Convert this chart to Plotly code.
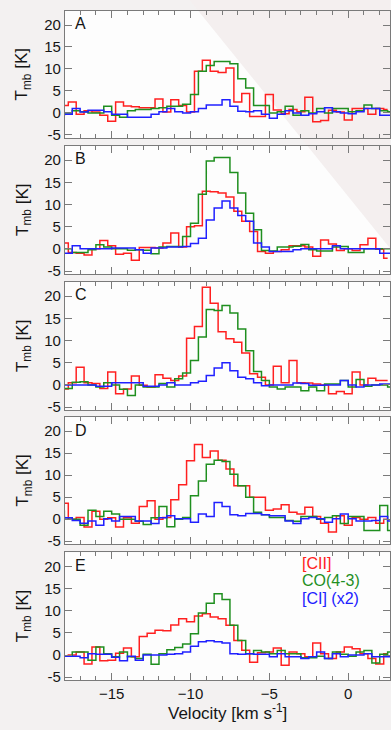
import plotly.graph_objects as go

# ---------------- data ----------------
panel_labels = ["A", "B", "C", "D", "E"]

# channel centres (km/s)
vel_cii = [-18.0, -17.5, -17.0, -16.5, -16.0, -15.5, -15.0, -14.5, -14.0, -13.5,
           -13.0, -12.5, -12.0, -11.5, -11.0, -10.5, -10.0, -9.5, -9.0, -8.5,
           -8.0, -7.5, -7.0, -6.5, -6.0, -5.5, -5.0, -4.5, -4.0, -3.5,
           -3.0, -2.5, -2.0, -1.5, -1.0, -0.5, 0.0, 0.5, 1.0, 1.5, 2.0, 2.5]
vel_co = [-18.25, -17.75, -17.25, -16.75, -16.25, -15.75, -15.25, -14.75, -14.25, -13.75,
          -13.25, -12.75, -12.25, -11.75, -11.25, -10.75, -10.25, -9.75, -9.25, -8.75,
          -8.25, -7.75, -7.25, -6.75, -6.25, -5.75, -5.25, -4.75, -4.25, -3.75,
          -3.25, -2.75, -2.25, -1.75, -1.25, -0.75, -0.25, 0.25, 0.75, 1.25,
          1.75, 2.25, 2.75]

cii_A = [1.7, 2.5, -0.3, 0.5, 0.2, -0.5, -1.9, 2.5, 1.6, 1.4, 1.2, 1.2, 3.2, 0.2, 3.0, 1.7, 0.2, 9.5,
         12.0, 9.5, 9.2, 10.2, 2.5, 4.4, -0.8, -0.8, 4.2, 0.7, -0.2, 0.8, 0.3, 3.6, -2.0, -1.7,
         0.6, 0.2, -1.6, 1.0, 1.0, -0.3, 1.0, 0.8]
co_A = [0.0, 0.0, 0.5, 0.3, 0.0, 0.0, 1.5, -0.5, -1.0, 0.5, 0.8, 0.8, 1.0, 1.2, 1.5, 1.5, 2.0, 4.2,
        9.5, 10.8, 11.7, 11.7, 11.2, 7.8, 5.7, 1.7, 1.7, 0.0, 0.3, 1.5, -0.5, 0.5, 0.0, 1.0,
        0.0, 1.0, 1.0, 0.3, 0.5, 1.8, 1.0, 0.5, 0.3]
ci_A = [-0.5, -0.3, 1.0, 0.2, 0.6, 0.6, 0.3, -0.3, -0.3, -1.0, -1.0, -1.0, -0.3, 0.3, 1.0, 0.3, 0.0, 0.3,
        1.0, 1.8, 1.8, 3.0, 1.5, 0.4, 0.3, 0.5, -0.3, -1.2, -0.3, 0.5, 0.0, -0.5, -0.2, 0.3,
        1.2, 0.3, 0.0, -0.2, 0.3, 1.0, 1.0, -0.5, -0.5]

cii_B = [1.3, -0.8, -1.0, -1.4, 0.0, 1.9, 0.7, -1.2, -1.0, -2.6, 0.3, 0.3, 0.2, 1.3, 3.6, 0.4, 5.0, 5.2,
         13.0, 12.9, 12.6, 11.7, 8.5, 6.2, 3.9, -0.6, -1.0, -0.6, -0.2, 0.7, 0.7, 0.4, -1.7, 2.0,
         1.1, -0.4, 0.0, -0.4, 0.9, 2.4, -0.1, -2.1]
co_B = [0.0, 0.0, -0.8, -0.8, -0.2, 0.9, 0.4, 0.0, 0.0, -0.3, -0.2, -0.3, -1.1, 0.4, 0.5, 0.5, 2.8, 5.8,
        12.3, 19.8, 20.6, 20.6, 17.2, 12.6, 8.0, 4.3, -0.4, -0.5, 0.4, 0.4, 0.6, 1.0, -0.2, -0.5,
        -0.5, 0.4, 0.5, -0.8, -0.8, 0.0, 0.0, 0.0, 0.0]
ci_B = [-1.0, -1.0, 0.7, 0.0, 0.0, 0.0, 0.0, 0.2, 0.2, 0.2, -0.2, -1.0, 0.2, 0.2, 0.4, 0.4, 0.5, 1.2,
        2.4, 6.5, 9.2, 10.8, 9.2, 7.5, 6.2, 1.3, 0.4, -0.6, -0.6, -0.6, -0.2, 0.0, 0.0, 0.0,
        0.0, 0.7, 0.0, 0.0, 0.0, 0.0, 0.0, -1.0, -1.0]

cii_C = [-0.9, 0.5, 4.0, 0.5, 0.3, -0.8, 2.9, -2.0, -0.9, 2.0, -0.1, -0.5, 2.3, 1.5, 1.0, 2.0, 10.5, 13.2,
         22.0, 18.4, 12.0, 10.4, 9.6, 7.2, 2.5, 1.7, 0.0, 4.2, 0.5, 5.5, 0.5, 0.4, 0.2, 0.0,
         -2.0, -1.5, -2.0, 2.9, 0.0, 1.5, 1.0, 1.0]
co_C = [-0.8, -0.8, 0.6, 0.7, 0.0, -0.5, 0.5, 0.0, -1.0, -2.4, 0.0, -0.5, -0.5, 0.3, -0.5, 1.4, 2.7, 5.5,
        10.8, 17.0, 16.8, 17.9, 16.2, 12.6, 7.7, 3.0, 1.0, -0.5, -0.9, -0.5, -0.5, -1.3, -0.5, -1.3,
        0.2, 0.2, 1.0, -0.5, 1.2, -0.3, 0.0, 0.0, -0.5]
ci_C = [0.0, 0.0, 0.0, 0.0, 0.0, -0.3, -0.3, 0.5, 0.5, 0.5, 0.5, -0.3, -0.3, 0.0, 0.5, 0.0, 0.0, 0.5,
        0.8, 2.1, 3.8, 5.0, 3.2, 1.7, 1.4, 0.5, -0.2, 0.0, 0.0, 0.0, 0.4, 0.3, -0.1, -0.1,
        0.0, 0.0, 1.0, 0.0, -0.5, 0.0, 0.0, 0.2, 0.2]

cii_D = [3.6, 0.0, 0.4, -1.8, 1.8, 0.0, 0.3, -1.8, 0.3, -0.9, 2.9, 4.2, 0.0, 0.4, 4.4, 7.8, 13.3, 17.0,
         14.0, 15.5, 13.4, 11.4, 7.6, 7.6, 5.0, 5.0, 2.0, 2.3, 3.3, 1.6, 1.2, 2.7, 0.6, -0.9,
         -2.9, 0.8, -1.4, 0.4, 0.0, 0.4, -0.9, 0.0]
co_D = [1.8, 0.0, 0.0, -1.4, 2.0, 0.6, 1.8, 1.2, 0.0, 0.0, -0.5, -1.2, 0.3, 2.9, -1.7, 0.0, 0.4, 5.3,
        8.7, 12.5, 13.4, 13.1, 10.2, 7.6, 5.0, 1.6, 1.0, 0.4, 0.4, -0.3, -0.5, 0.6, 0.6, 0.0,
        0.4, 0.8, -1.0, 0.6, 0.6, -2.6, -2.6, 3.1, -2.6]
ci_D = [0.5, 0.3, -0.3, -0.9, -0.4, -1.4, 0.1, -0.4, 0.6, 0.6, -0.4, -0.4, -1.0, 0.3, 0.8, 0.1, 0.1, -0.7,
        1.2, 0.6, 3.8, 2.9, 1.0, 0.8, 1.3, 1.3, 1.0, 0.8, 0.8, -0.4, -1.0, 0.1, 0.4, 0.1,
        -0.7, 0.1, 1.2, 0.1, -0.4, -0.4, -0.3, 0.6, -0.4]

cii_E = [-0.3, 0.0, 0.7, -2.0, 1.8, -1.3, -1.2, 0.4, 1.6, -0.4, 4.2, 4.9, 5.6, 5.5, 6.8, 8.2, 7.5, 8.8,
         9.3, 8.6, 8.2, 6.7, 3.3, 1.1, -1.6, 0.5, 0.7, 1.6, -2.3, 0.7, 0.3, -0.4, 2.7, 0.3,
         -0.8, 0.7, 1.8, 1.4, 0.3, -0.8, -2.0, 0.3]
co_E = [-0.3, -0.3, 0.7, 0.7, -1.2, 1.8, 0.3, -0.4, 0.7, -0.4, -0.8, 0.2, -2.1, 0.3, 1.2, 1.7, 2.5, 4.8,
        9.5, 11.7, 13.8, 12.5, 6.7, 3.3, 0.3, 1.0, 0.7, 0.3, 1.0, 0.3, 0.3, -0.6, -0.6, -0.3,
        -0.8, 0.7, 0.2, -0.3, 0.7, 1.0, -1.8, 0.2, 0.7]
ci_E = [-0.3, -0.3, -0.3, -0.6, 0.3, 0.2, 0.2, -0.5, -1.3, -0.3, -1.2, 0.0, 0.0, 0.0, 0.2, 0.3, 0.7, 2.0,
        3.0, 3.2, 3.0, 2.7, 0.3, 0.2, 0.3, 0.2, 0.2, -0.4, 0.3, -0.4, -0.4, -0.8, -0.4, 0.7,
        -0.8, 0.3, -0.4, 0.0, 0.0, 0.3, -0.4, -0.4, -0.4]

cii_all = [cii_A, cii_B, cii_C, cii_D, cii_E]
co_all = [co_A, co_B, co_C, co_D, co_E]
ci_all = [ci_A, ci_B, ci_C, ci_D, ci_E]

y_ticks = [-5, 0, 5, 10, 15, 20]
legend_names = ["[CII]", "CO(4-3)", "[CI] (x2)"]

# ---------------- style ----------------
W, H = 391, 730
RED, GREEN, BLUE = "#ff2020", "#1f8f1f", "#2020ff"
AXC = "#7a7a7a"
FONT = "Liberation Sans, Arial, sans-serif"
TXT = "#151515"
panel_px = [(11, 139), (147, 276), (284, 413), (420, 548), (556, 685)]  # top, bottom in px
x_left = 65

fig = go.Figure()
layout = dict(
    width=W, height=H, margin=dict(l=0, r=0, t=0, b=0),
    paper_bgcolor="#f3f1f1", plot_bgcolor="#fdfdfd", showlegend=False,
    font=dict(family=FONT, color=TXT),
)
annotations = []

for i in range(5):
    sfx = "" if i == 0 else str(i + 1)
    top, bot = panel_px[i]
    for vals, vel, col in [(cii_all[i], vel_cii, RED), (co_all[i], vel_co, GREEN), (ci_all[i], vel_co, BLUE)]:
        fig.add_trace(go.Scatter(x=vel, y=vals, mode="lines",
                                 line=dict(shape="hvh", color=col, width=1.5),
                                 xaxis="x" + sfx, yaxis="y" + sfx, hoverinfo="skip"))
    layout["xaxis" + sfx] = dict(
        domain=[x_left / W, 1.0], range=[-17.97, 2.65], anchor="y" + sfx,
        showline=True, linecolor=AXC, linewidth=1, mirror="ticks",
        ticks="inside", ticklen=7, tickcolor=AXC, tickwidth=1,
        tickmode="linear", tick0=0, dtick=5,
        minor=dict(ticks="inside", ticklen=4, dtick=1, tickcolor=AXC, tickwidth=1, showgrid=False),
        showgrid=False, zeroline=False, showticklabels=(i == 4),
        tickfont=dict(size=15, family=FONT, color=TXT),
    )
    layout["yaxis" + sfx] = dict(
        domain=[1 - bot / H, 1 - top / H], range=[-5.7, 23.2], anchor="x" + sfx,
        showline=True, linecolor=AXC, linewidth=1, mirror="ticks",
        ticks="inside", ticklen=7, tickcolor=AXC, tickwidth=1,
        tickmode="array", tickvals=y_ticks, ticktext=[str(t) for t in y_ticks],
        showgrid=False, zeroline=False,
        tickfont=dict(size=15, family=FONT, color=TXT),
    )
    annotations.append(dict(text=panel_labels[i], xref="paper", yref="paper",
                            x=73 / W, y=1 - (top + 13) / H, xanchor="left", yanchor="middle",
                            showarrow=False, font=dict(size=16, family=FONT, color=TXT)))
    annotations.append(dict(text="T<sub>mb</sub> [K]", xref="paper", yref="paper",
                            x=24 / W, y=1 - ((top + bot) / 2) / H, xanchor="center", yanchor="middle",
                            textangle=-90, showarrow=False, font=dict(size=17, family=FONT, color=TXT)))

annotations.append(dict(text="Velocity [km s<sup>-1</sup>]", xref="paper", yref="paper",
                        x=228 / W, y=1 - 717 / H, xanchor="center", yanchor="middle",
                        showarrow=False, font=dict(size=17, family=FONT, color=TXT)))
for name, col, ypx in zip(legend_names, [RED, GREEN, BLUE], [567, 585, 603]):
    annotations.append(dict(text=name, xref="paper", yref="paper", x=301 / W, y=1 - ypx / H,
                            xanchor="left", yanchor="middle", showarrow=False,
                            font=dict(size=16, family=FONT, color=col)))

layout["annotations"] = annotations
layout["shapes"] = [dict(type="path", xref="paper", yref="paper", layer="below",
                         path="M %f,1 L 1,1 L 1,%f Z" % (190 / W, 1 - 250 / H),
                         fillcolor="#f4efef", line=dict(width=0))]
fig.update_layout(**layout)
fig.write_html("out.html")
